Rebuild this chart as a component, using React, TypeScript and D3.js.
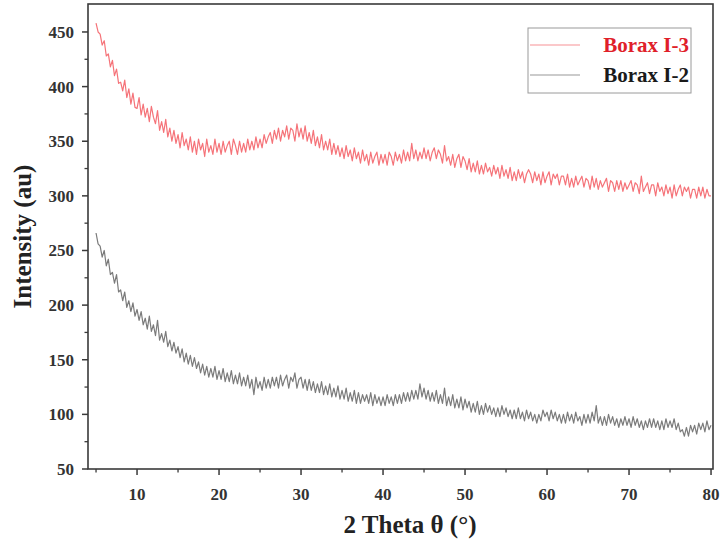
import React from "react";
import * as d3 from "d3";

const X_START = 5;
const X_STEP = 0.25;

const boraxI3: number[] = [
  458, 450, 448, 438, 442, 428, 430, 418, 424, 410, 416, 403, 404, 396, 406, 390,
  398, 384, 394, 381, 380, 390, 374, 384, 372, 380, 368, 382, 372, 366, 378, 360,
  368, 358, 370, 354, 362, 350, 360, 348, 356, 344, 358, 346, 352, 342, 354, 340,
  350, 338, 352, 342, 348, 336, 352, 340, 346, 338, 352, 340, 348, 338, 350, 340,
  346, 350, 338, 352, 346, 338, 350, 340, 348, 340, 352, 342, 350, 342, 354, 344,
  352, 344, 356, 348, 354, 358, 348, 360, 352, 362, 350, 360, 354, 364, 352, 362,
  360, 350, 366, 354, 362, 352, 364, 350, 358, 348, 360, 346, 354, 344, 356, 342,
  350, 342, 352, 338, 348, 338, 346, 336, 344, 334, 346, 336, 342, 332, 344, 334,
  340, 330, 342, 332, 338, 328, 340, 330, 336, 340, 328, 338, 330, 338, 328, 340,
  336, 328, 340, 332, 338, 330, 342, 332, 340, 332, 348, 334, 342, 332, 340, 334,
  344, 334, 342, 332, 340, 344, 334, 342, 338, 330, 346, 332, 336, 328, 338, 326,
  334, 338, 326, 336, 332, 324, 334, 322, 330, 322, 332, 320, 328, 320, 330, 322,
  326, 318, 328, 320, 326, 316, 328, 318, 324, 316, 326, 314, 322, 314, 324, 316,
  322, 312, 320, 324, 320, 312, 322, 314, 320, 310, 322, 312, 318, 322, 310, 320,
  316, 320, 310, 318, 318, 310, 320, 308, 316, 308, 318, 310, 314, 318, 308, 316,
  314, 306, 318, 308, 316, 306, 314, 308, 312, 316, 304, 314, 312, 304, 314, 306,
  314, 304, 312, 306, 310, 314, 304, 312, 310, 302, 318, 304, 308, 312, 302, 310,
  310, 300, 312, 304, 308, 300, 310, 302, 308, 298, 310, 300, 306, 310, 300, 308,
  304, 308, 298, 306, 306, 298, 308, 300, 308, 298, 306, 300, 300,
];

const boraxI2: number[] = [
  266, 256, 254, 244, 250, 236, 242, 228, 230, 220, 228, 212, 214, 204, 212, 198,
  204, 194, 202, 190, 196, 186, 194, 182, 188, 178, 190, 176, 182, 172, 186, 168,
  174, 166, 176, 162, 168, 158, 166, 156, 162, 152, 160, 148, 156, 146, 154, 144,
  152, 142, 148, 138, 146, 136, 144, 134, 142, 134, 144, 132, 140, 132, 142, 130,
  138, 130, 140, 128, 136, 128, 138, 126, 134, 126, 136, 124, 132, 118, 134, 124,
  130, 122, 134, 124, 132, 124, 134, 126, 134, 124, 136, 126, 132, 136, 124, 134,
  130, 138, 124, 132, 134, 124, 132, 122, 132, 122, 130, 120, 128, 120, 130, 118,
  126, 118, 128, 116, 124, 116, 126, 114, 122, 114, 124, 112, 120, 112, 122, 110,
  120, 110, 118, 112, 118, 110, 120, 108, 118, 110, 116, 108, 116, 108, 118, 110,
  116, 108, 118, 110, 118, 110, 120, 112, 120, 112, 122, 114, 122, 114, 128, 116,
  124, 114, 122, 112, 120, 112, 122, 110, 118, 110, 124, 108, 116, 108, 118, 106,
  114, 106, 116, 104, 114, 106, 112, 102, 110, 102, 112, 100, 108, 100, 110, 102,
  108, 100, 106, 98, 106, 98, 108, 100, 106, 98, 104, 96, 104, 96, 106, 96,
  102, 94, 104, 96, 102, 94, 100, 92, 100, 94, 104, 98, 102, 94, 104, 96,
  102, 94, 100, 92, 100, 92, 102, 94, 100, 92, 102, 94, 98, 90, 100, 92,
  100, 92, 102, 94, 108, 92, 98, 90, 98, 90, 100, 92, 98, 90, 96, 88,
  96, 90, 98, 90, 96, 88, 98, 90, 96, 88, 94, 86, 94, 88, 96, 88,
  96, 88, 94, 86, 94, 86, 96, 88, 94, 88, 96, 86, 92, 84, 86, 80,
  88, 80, 90, 84, 90, 82, 92, 86, 92, 84, 94, 86, 90,
];

const xMajorTicks = [10, 20, 30, 40, 50, 60, 70, 80];
const xMinorTicks = [5, 15, 25, 35, 45, 55, 65, 75];
const yMajorTicks = [50, 100, 150, 200, 250, 300, 350, 400, 450];
const yMinorTicks = [75, 125, 175, 225, 275, 325, 375, 425];

const seriesNames = ["Borax I-3", "Borax I-2"];
const seriesColors = ["#f25058", "#5a5a5a"];
const legendTextColors = ["#e01f2a", "#1a1a1a"];

export default function App() {
  const W = 722;
  const H = 541;
  const left = 88, right = 713, top = 4, bottom = 469;
  const x = d3.scaleLinear().domain([4.02, 80.24]).range([left, right]);
  const y = d3.scaleLinear().domain([50, 475.6]).range([bottom, top]);

  const line = d3
    .line<number>()
    .x((_, i) => x(X_START + i * X_STEP))
    .y((v) => y(v));

  const font = "'Liberation Serif', 'Times New Roman', serif";
  const axisColor = "#3a3a3a";

  return (
    <svg
      width={W}
      height={H}
      style={{ position: "absolute", left: 0, top: 0, background: "#fff" }}
      fontFamily={font}
    >
      <rect x={0} y={0} width={W} height={H} fill="#fff" />
      {/* series */}
      <path d={line(boraxI3) || ""} fill="none" stroke={seriesColors[0]} strokeWidth={1.2} strokeOpacity={0.8} strokeLinejoin="round" />
      <path d={line(boraxI2) || ""} fill="none" stroke={seriesColors[1]} strokeWidth={1.2} strokeOpacity={0.8} strokeLinejoin="round" />

      {/* frame */}
      <rect x={left} y={top} width={right - left} height={bottom - top} fill="none" stroke={axisColor} strokeWidth={1.6} />

      {/* x ticks */}
      {xMajorTicks.map((t) => (
        <g key={"xm" + t}>
          <line x1={x(t)} x2={x(t)} y1={bottom} y2={bottom + 6} stroke={axisColor} strokeWidth={1.5} />
          <text x={x(t)} y={500} textAnchor="middle" fontSize={17} fontWeight="bold" fill="#333">
            {t}
          </text>
        </g>
      ))}
      {xMinorTicks.map((t) => (
        <line key={"xn" + t} x1={x(t)} x2={x(t)} y1={bottom} y2={bottom + 3.5} stroke={axisColor} strokeWidth={1.3} />
      ))}

      {/* y ticks */}
      {yMajorTicks.map((t) => (
        <g key={"ym" + t}>
          <line x1={left - 6} x2={left} y1={y(t)} y2={y(t)} stroke={axisColor} strokeWidth={1.5} />
          <text x={74} y={y(t) + 6} textAnchor="end" fontSize={17} fontWeight="bold" fill="#333">
            {t}
          </text>
        </g>
      ))}
      {yMinorTicks.map((t) => (
        <line key={"yn" + t} x1={left - 3.5} x2={left} y1={y(t)} y2={y(t)} stroke={axisColor} strokeWidth={1.3} />
      ))}

      {/* axis titles */}
      <text x={410} y={533} textAnchor="middle" fontSize={25} fontWeight="bold" fill="#222">
        2 Theta θ (°)
      </text>
      <text
        transform={`translate(31, ${(top + bottom) / 2}) rotate(-90)`}
        textAnchor="middle"
        fontSize={25}
        fontWeight="bold"
        fill="#222"
      >
        Intensity (au)
      </text>

      {/* legend */}
      <rect x={528} y={28} width={163} height={65} fill="#fff" stroke="#9a9a9a" strokeWidth={1} />
      {seriesNames.map((name, i) => (
        <g key={name}>
          <line x1={530} x2={580} y1={45 + i * 30} y2={45 + i * 30} stroke={seriesColors[i]} strokeWidth={0.9} strokeOpacity={0.7} />
          <text x={689} y={52 + i * 30} textAnchor="end" fontSize={21} fontWeight="bold" fill={legendTextColors[i]}>
            {name}
          </text>
        </g>
      ))}
    </svg>
  );
}
